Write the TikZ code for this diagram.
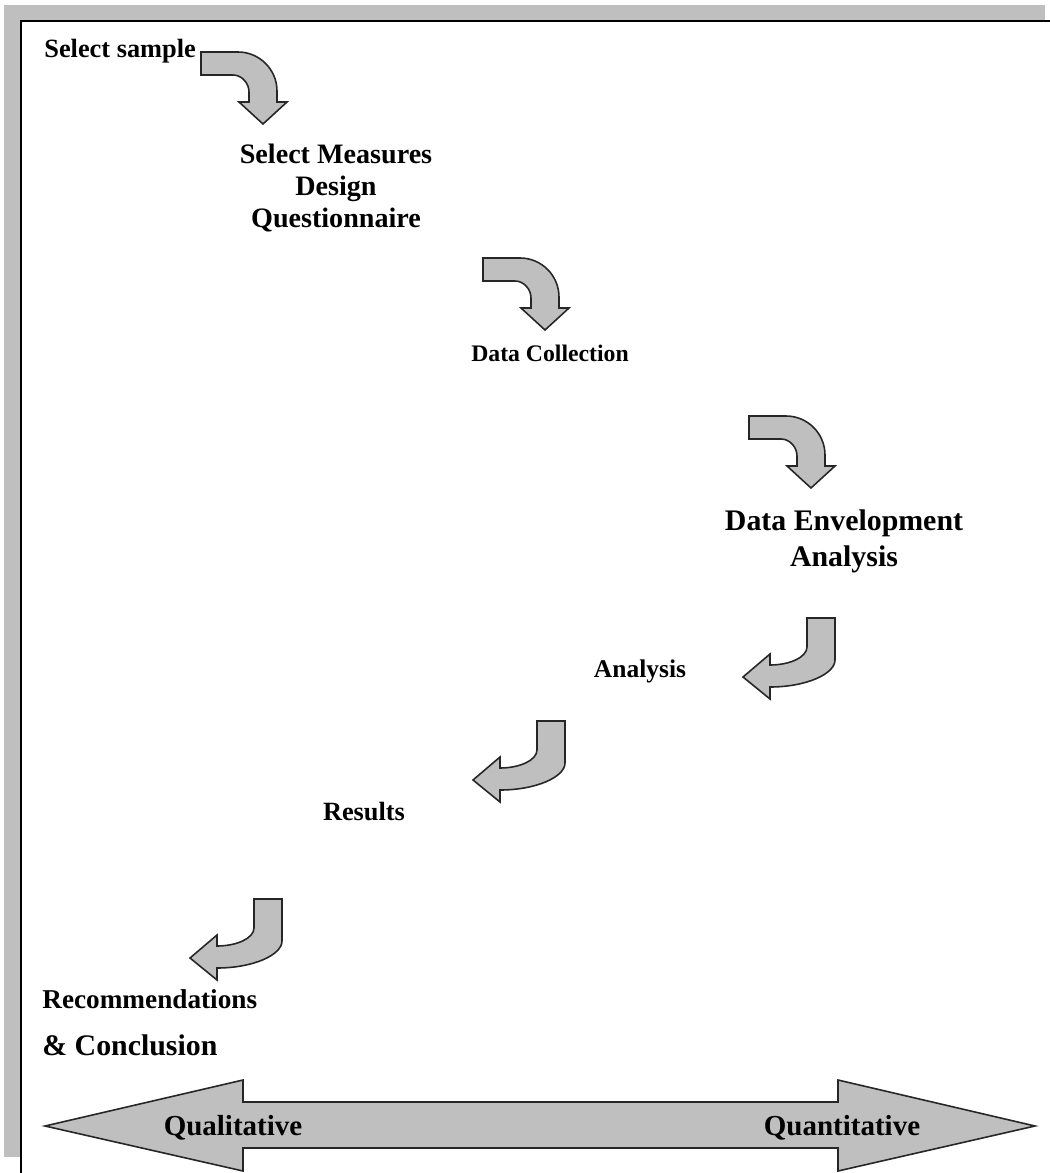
\documentclass[tikz,border=0pt]{standalone}
\usepackage{fontspec}
\setmainfont{Liberation Serif}
\tikzset{
  {block arrow/.style} ={draw=black!85,fill=black!25,line width=0.9pt},
  {frame band/.style} ={fill=black!25},
  {frame line/.style} ={draw=black,line width=1.1pt},
  {step label/.style} ={inner sep=0,font=\bfseries\fontsize{#1}{#1}\selectfont},
  {step label/.default} =15,
  % arrow bending from right to down, tip at the origin
  {turn down/.pic} ={
    \path[block arrow] (-62,-72) -- (-25,-72)
       .. controls (-3.5,-72) and (14,-54.5) .. (14,-33)
       -- (14,-22) -- (24,-22) -- (0,0) -- (-24,-22) -- (-14,-22) -- (-14,-32)
       .. controls (-14,-40.8) and (-21.2,-49) .. (-30,-49) -- (-62,-49) -- cycle;
  },
  % arrow bending from down to left, tip at the origin
  {turn left/.pic} ={
    \path[block arrow] (64,-59) -- (92,-59) -- (92,-17)
       .. controls (92,-3) and (63,10) .. (27,10)
       -- (27,22) -- (0,0) -- (27,-23) -- (27,-12)
       .. controls (47,-12) and (64,-20) .. (64,-30) -- cycle;
  },
}

\begin{document}
\begin{tikzpicture}[x=0.02cm,y=-0.02cm]
\useasboundingbox (0,0) rectangle (1050,1173);
% frame
\fill[frame band] (4,5) rectangle (1045,21);
\fill[frame band] (4,5) rectangle (21,1157);
\draw[frame line] (21,1173) -- (21,21) -- (1050,21);

\node[step label=15,anchor=base west] (sample) at (44,57) {Select sample};
\node[step label,anchor=north,align=center,
      font=\bfseries\fontsize{16}{18.2}\selectfont] (measures) at (336,144)
      {Select Measures\\Design\\Questionnaire};
\node[step label=13.5,anchor=base] (collection) at (550,361) {Data Collection};
\node[step label,anchor=north,align=center,
      font=\bfseries\fontsize{17}{21}\selectfont] (dea) at (844,509)
      {Data Envelopment\\Analysis};
\node[step label=14.5,anchor=base] (analysis) at (640,677) {Analysis};
\node[step label=15,anchor=base] (results) at (364,820) {Results};
\node[step label=15.5,anchor=base west] (recommend) at (42,1008) {Recommendations};
\node[step label=17,anchor=base west] (conclusion) at (42,1055) {\& Conclusion};

\pic at (263,124) {turn down};
\pic at (545,330) {turn down};
\pic at (811,488) {turn down};
\pic at (743,677) {turn left};
\pic at (473,780) {turn left};
\pic at (190,958) {turn left};

% qualitative -- quantitative scale
\path[block arrow] (45,1126) -- (243,1080) -- (243,1102) -- (838,1102) -- (838,1080)
   -- (1035,1126) -- (838,1171) -- (838,1148) -- (243,1148) -- (243,1171) -- cycle;
\node[step label=16.5,anchor=base] (qual) at (233,1135) {Qualitative};
\node[step label=16.5,anchor=base] (quant) at (842,1135) {Quantitative};
\end{tikzpicture}
\end{document}
